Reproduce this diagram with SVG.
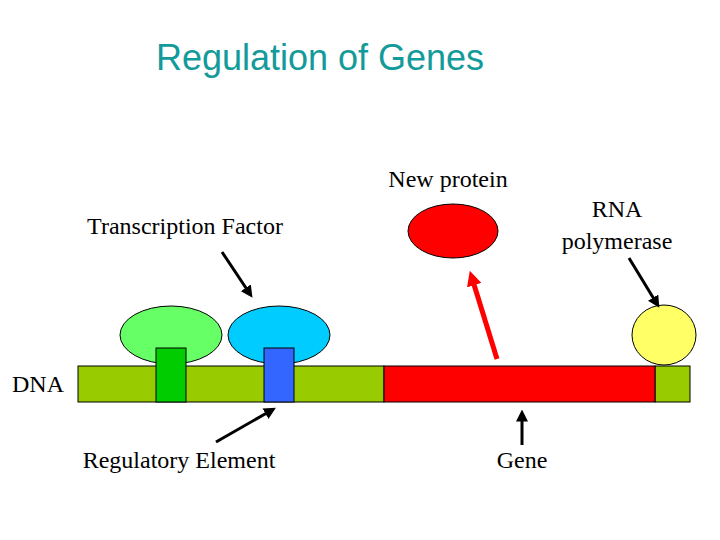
<svg xmlns="http://www.w3.org/2000/svg" width="720" height="540" viewBox="0 0 720 540">
<style>
.t{font-family:"Liberation Serif",serif;font-size:24px;fill:#000}
.s{stroke:#000;stroke-width:1}
.a{stroke:#000;stroke-width:3;fill:none}
</style>
<defs>
<marker id="ab" markerWidth="4" markerHeight="4" refX="2.5" refY="2" orient="auto"><path d="M0,0 L4,2 L0,4 Z" fill="#000"/></marker>
<marker id="ar" markerWidth="3" markerHeight="3" refX="1.5" refY="1.5" orient="auto"><path d="M0,0 L3,1.5 L0,3 Z" fill="#f00"/></marker>
</defs>
<rect width="720" height="540" fill="#fff"/>
<text x="320" y="70" text-anchor="middle" font-family="Liberation Sans,sans-serif" font-size="36" fill="#139a9a">Regulation of Genes</text>
<g id="dna"><rect class="s" x="78" y="366" width="306" height="36" fill="#99cc00"/><rect class="s" x="655" y="366" width="35" height="36" fill="#99cc00"/><text class="t" x="12" y="392">DNA</text></g>
<g id="gene"><rect class="s" x="384" y="366" width="271" height="36" fill="#f00"/><text class="t" x="522" y="468" text-anchor="middle">Gene</text></g>
<g id="tf1"><ellipse class="s" cx="171" cy="335" rx="51" ry="29" fill="#66ff66"/><rect class="s" x="156" y="348" width="30" height="54" fill="#00cc00"/></g>
<g id="tf2"><ellipse class="s" cx="279" cy="335" rx="51" ry="29" fill="#00ccff"/><rect class="s" x="264" y="348" width="30" height="54" fill="#3366ff"/></g>
<g id="rnap"><ellipse class="s" cx="664" cy="335" rx="32" ry="30" fill="#ffff66"/><text class="t" x="617" y="217" text-anchor="middle">RNA</text><text class="t" x="617" y="249" text-anchor="middle">polymerase</text></g>
<g id="protein"><ellipse class="s" cx="453" cy="231" rx="45" ry="27" fill="#f00"/><text class="t" x="448" y="187" text-anchor="middle">New protein</text></g>
<g id="labels"><text class="t" x="185" y="234" text-anchor="middle">Transcription Factor</text><text class="t" x="179" y="468" text-anchor="middle">Regulatory Element</text></g>
<g id="connectors">
<line class="a" x1="222" y1="252" x2="250" y2="294" marker-end="url(#ab)"/>
<line class="a" x1="216" y1="442" x2="272" y2="410" marker-end="url(#ab)"/>
<line class="a" x1="522" y1="445" x2="522" y2="414" marker-end="url(#ab)"/>
<line class="a" x1="629" y1="258" x2="657" y2="304" marker-end="url(#ab)"/>
<line x1="497" y1="359" x2="472" y2="278" stroke="#f00" stroke-width="5" marker-end="url(#ar)"/>
</g>
</svg>
